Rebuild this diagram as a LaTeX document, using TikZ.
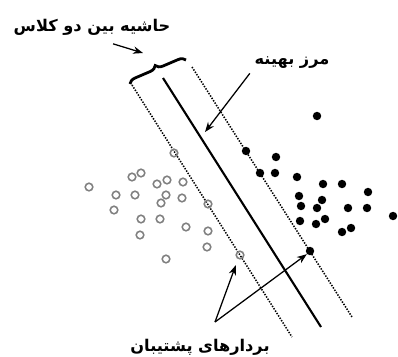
\documentclass[tikz,border=0pt]{standalone}
\usepackage{fontspec}
\usepackage{tikz}
\usetikzlibrary{arrows.meta, positioning, decorations.pathreplacing}
\newfontfamily\farsifont[Script=Arabic]{DejaVu Sans}
\TeXXeTstate=1
\definecolor{circgray}{HTML}{808080}

\begin{document}
\begin{tikzpicture}[x=0.025cm, y=-0.025cm, >=Stealth,
  lbl/.style={font=\farsifont\bfseries\fontsize{11.5}{13}\selectfont, inner sep=1pt},
  negdot/.style={circle, draw=circgray, line width=1.1pt, minimum size=5.4pt, inner sep=0pt},
  posdot/.style={circle, fill=black, minimum size=6pt, inner sep=0pt},
  margin/.style={line width=1.1pt, dash pattern=on 1pt off 1pt},
  pointer/.style={->, line width=0.9pt}]
  \useasboundingbox (0,0) rectangle (398,356);

  % Mrz va hashiyeh
  \draw[line width=1.5pt] (163,78) -- (321,327);
  \draw[margin] (132,85) -- (292,337);
  \draw[margin] (192,67) -- (352,317);
  \draw[line width=2pt, decorate, decoration={brace, amplitude=5pt}] (130,84) -- (186,60);

  % Class 1 (circles)
  \foreach \p [count=\i] in {(89,187),(132,177),(141,173),(157,184),(167,180),(183,182),
      (116,195),(135,195),(166,195),(161,203),(182,198),(114,210),(141,219),(160,219),
      (186,227),(208,231),(140,235),(207,247),(166,259)} {
    \node[negdot] (c\i) at \p {};
  }
  % Class 2 (dots)
  \foreach \p [count=\i] in {(317,116),(276,157),(275,173),(297,177),(323,184),(342,184),
      (368,192),(299,196),(322,200),(301,206),(317,208),(348,208),(367,208),(393,216),
      (300,221),(316,224),(325,219),(342,232),(351,228)} {
    \node[posdot] (d\i) at \p {};
  }
  % Support vectors
  \node[negdot] (sv1) at (174,153) {};
  \node[negdot] (sv2) at (208,204) {};
  \node[negdot] (sv3) at (240,255) {};
  \node[posdot] (sv4) at (246,151) {};
  \node[posdot] (sv5) at (260,173) {};
  \node[posdot] (sv6) at (310,251) {};

  % Labels
  \node[lbl] (marginlbl) at (92,27) {\beginR حاشیه بین دو کلاس\endR};
  \node[lbl] (hyperlbl) at (292,63) {\beginR مرز بهینه\endR};
  \node[lbl] (svlbl) at (200,347) {\beginR بردارهای پشتیبان\endR};

  \coordinate (bracetip) at (143,53);
  \coordinate (hypertip) at (205,132);
  \coordinate (fork) at (215,322);

  \draw[pointer] ([xshift=15pt,yshift=-5pt]marginlbl.south) -- (bracetip);
  \draw[pointer] ([xshift=-30pt,yshift=-2pt]hyperlbl.south) -- (hypertip);
  \draw[pointer] (fork) -- ([shift={(-3pt,-4pt)}]sv3.south);
  \draw[pointer] (fork) -- (sv6.south west);
\end{tikzpicture}
\end{document}
